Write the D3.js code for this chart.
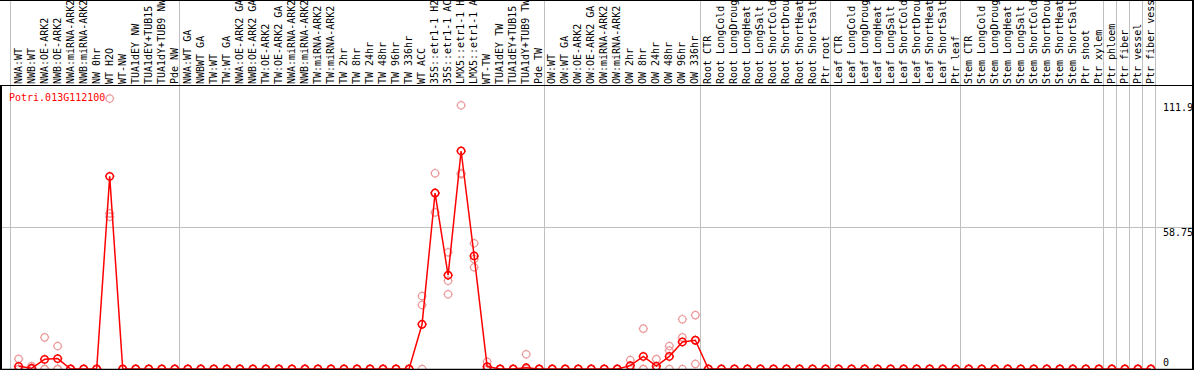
<!DOCTYPE html>
<html>
<head>
<meta charset="utf-8">
<script src="https://cdn.jsdelivr.net/npm/d3@7"></script>
<style>
  body { margin: 0; background: #fff; }
  text { font-family: "DejaVu Sans Mono", monospace; font-size: 10px; }
</style>
</head>
<body>
<svg id="chart" width="1194" height="370"></svg>
<script>

var geneName = "Potri.013G112100";

var samples = [
  "NWA:WT", "NWB:WT", "NWA:OE-ARK2", "NWB:OE-ARK2", "NWA:miRNA-ARK2", "NWB:miRNA-ARK2", "NW 0hr", "WT H2O", "WT-NW",
  "TUA1dEY NW", "TUA1dEY+TUB15 NW", "TUA1dY+TUB9 NW", "Pde NW",
  "NWA:WT GA", "NWBWT GA", "TW:WT", "TW:WT GA", "NWA:OE-ARK2 GA", "NWB:OE-ARK2 GA", "TW:OE-ARK2", "TW:OE-ARK2 GA",
  "NWA:miRNA-ARK2 GA", "NWB:miRNA-ARK2 GA", "TW:miRNA-ARK2", "TW:miRNA-ARK2 GA",
  "TW 2hr", "TW 8hr", "TW 24hr", "TW 48hr", "TW 96hr", "TW 336hr", "WT ACC",
  "35S::etr1-1 H2O", "35S::etr1-1 ACC", "LMX5::etr1-1 H2O", "LMX5::etr1-1 ACC", "WT-TW",
  "TUA1dEY TW", "TUA1dEY+TUB15 TW", "TUA1dY+TUB9 TW", "Pde TW",
  "OW:WT", "OW:WT GA", "OW:OE-ARK2", "OW:OE-ARK2 GA", "OW:miRNA-ARK2", "OW:miRNA-ARK2 GA",
  "OW 2hr", "OW 8hr", "OW 24hr", "OW 48hr", "OW 96hr", "OW 336hr",
  "Root CTR", "Root LongCold", "Root LongDrought", "Root LongHeat", "Root LongSalt",
  "Root ShortCold", "Root ShortDrought", "Root ShortHeat", "Root ShortSalt", "Ptr root",
  "Leaf CTR", "Leaf LongCold", "Leaf LongDrought", "Leaf LongHeat", "Leaf LongSalt",
  "Leaf ShortCold", "Leaf ShortDrought", "Leaf ShortHeat", "Leaf ShortSalt", "Ptr leaf",
  "Stem CTR", "Stem LongCold", "Stem LongDrought", "Stem LongHeat", "Stem LongSalt",
  "Stem ShortCold", "Stem ShortDrought", "Stem ShortHeat", "Stem ShortSalt", "Ptr shoot", "Ptr xylem",
  "Ptr phloem", "Ptr fiber", "Ptr vessel", "Ptr fiber vessel"
];

// mean expression per sample
var means = [
  1.1, 0.3, 4.0, 4.3, 0, 0, 0, 79.7, 0, 0, 0, 0, 0,
  0, 0, 0, 0, 0, 0, 0, 0, 0, 0, 0, 0, 0, 0, 0, 0, 0, 0, 18.5, 72.8, 38.8, 90.2, 46.8, 1.0, 0, 0, 0.5, 0,
  0, 0, 0, 0, 0, 0, 1.4, 5.2, 1.2, 5.2, 11.2, 11.9,
  0, 0, 0, 0, 0, 0, 0, 0, 0, 0,
  0, 0, 0, 0, 0, 0, 0, 0, 0, 0,
  0, 0, 0, 0, 0, 0, 0, 0, 0, 0, 0,
  0, 0, 0, 0
];

// replicates
var rep1 = [
  4.2, 1.2, 13.1, 9.5, 0, 0, 0, 111.9, 0, 0, 0, 0, 0,
  0, 0, 0, 0, 0, 0, 0, 0, 0, 0, 0, 0, 0, 0, 0, 0, 0, 0, 30.2, 81.0, 48.3, 109.1, 52.0, 3.0, 0, 0, 6.1, 0,
  0, 0, 0, 0, 0, 0, 3.7, 16.7, 4.1, 9.5, 20.6, 22.3,
  0, 0, 0, 0, 0, 0, 0, 0, 0, 0,
  0, 0, 0, 0, 0, 0, 0, 0, 0, 0,
  0, 0, 0, 0, 0, 0, 0, 0, 0, 0, 0,
  0, 0, 0, 0
];
var rep2 = [
  0, 0, 0, 0, 0, 0, 0, 64.4, 0, 0, 0, 0, 0,
  0, 0, 0, 0, 0, 0, 0, 0, 0, 0, 0, 0, 0, 0, 0, 0, 0, 0, 26.5, 64.8, 36.5, 80.6, 45.5, 0, 0, 0, 0, 0,
  0, 0, 0, 0, 0, 0, 0, 0, 0, 7.6, 13.1, 2.1,
  0, 0, 0, 0, 0, 0, 0, 0, 0, 0,
  0, 0, 0, 0, 0, 0, 0, 0, 0, 0,
  0, 0, 0, 0, 0, 0, 0, 0, 0, 0, 0,
  0, 0, 0, 0
];
var rep3 = [
  0, 0, 0, 0, 0, 0, 0, 63.0, 0, 0, 0, 0, 0,
  0, 0, 0, 0, 0, 0, 0, 0, 0, 0, 0, 0, 0, 0, 0, 0, 0, 0, 0, 72.8, 30.9, 81.0, 42.1, 0, 0, 0, 0, 0,
  0, 0, 0, 0, 0, 0, 0, 0, 0, 0, 0, 11.9,
  0, 0, 0, 0, 0, 0, 0, 0, 0, 0,
  0, 0, 0, 0, 0, 0, 0, 0, 0, 0,
  0, 0, 0, 0, 0, 0, 0, 0, 0, 0, 0,
  0, 0, 0, 0
];

// sample indices where a group boundary line is drawn
var groupBreaks = [0, 13, 41, 53, 63, 73, 84, 85, 86, 87, 88];

var maxVal = d3.max([].concat(rep1, rep2, rep3, means));
var yTicks = [maxVal, 58.75, 0];

var W = 1194, H = 370;
var plotTop = 85, plotBottom = 369;

var svg = d3.select("#chart");

var xBand = d3.scaleBand()
  .domain(d3.range(samples.length))
  .range([10, 10 + 13.015 * samples.length])
  .padding(0);

function xPos(i){
  return xBand(i) + 8.6;
}

var y = d3.scaleLinear()
  .domain([0, maxVal * 1.05])
  .range([plotBottom, plotTop]);

// grid
svg.append("g").selectAll("line").data(groupBreaks).join("line")
  .attr("x1", d => Math.round(xBand(d) || xBand.range()[1]) + 0.5)
  .attr("x2", d => Math.round(xBand(d) || xBand.range()[1]) + 0.5)
  .attr("y1", 0)
  .attr("y2", plotBottom)
  .attr("stroke", "#c0c0c0")
  .attr("stroke-width", 1);

svg.append("line")
  .attr("x1", 0).attr("x2", W)
  .attr("y1", Math.round(y(yTicks[1])) + 0.5)
  .attr("y2", Math.round(y(yTicks[1])) + 0.5)
  .attr("stroke", "#c0c0c0");

// sample labels
svg.append("g").selectAll("text").data(samples).join("text")
  .attr("transform", (d, i) => "translate(" + (xPos(i) + 3) + "," + (plotTop - 1) + ") rotate(-90)")
  .attr("fill", "#000")
  .text(d => d.slice(0, 14));

function marker(r){
  let p = d3.path();
  p.moveTo(r, 0);
  p.arc(0, 0, r, 0, 2 * Math.PI);
  p.moveTo(0, -r); p.lineTo(0, -r - 1);
  p.moveTo(0, r); p.lineTo(0, r + 1);
  p.moveTo(-r, 0); p.lineTo(-r - 1, 0);
  p.moveTo(r, 0); p.lineTo(r + 1, 0);
  return p.toString();
}

var repPoints = [];
[rep1, rep2, rep3].forEach(function(rep){
  rep.forEach(function(v, i){ repPoints.push({i: i, v: v}); });
});

svg.append("g").selectAll("path").data(repPoints).join("path")
  .attr("d", marker(3.7))
  .attr("transform", d => "translate(" + xPos(d.i) + "," + y(d.v) + ")")
  .attr("fill", "none")
  .attr("stroke", "#ec9a9a")
  .attr("stroke-width", 1.2);

var line = d3.line()
  .x((d, i) => xPos(i))
  .y(d => y(d));

svg.append("path")
  .datum(means)
  .attr("d", line)
  .attr("fill", "none")
  .attr("stroke", "#ff0000")
  .attr("stroke-width", 1.5);

svg.append("g").selectAll("path").data(means).join("path")
  .attr("d", marker(3.7))
  .attr("transform", (d, i) => "translate(" + xPos(i) + "," + y(d) + ")")
  .attr("fill", "none")
  .attr("stroke", "#ff0000")
  .attr("stroke-width", 1.5);

// frame
svg.append("line").attr("x1", 0).attr("x2", W).attr("y1", 0.5).attr("y2", 0.5).attr("stroke", "#000");
svg.append("line").attr("x1", 0).attr("x2", W).attr("y1", plotTop + 0.5).attr("y2", plotTop + 0.5).attr("stroke", "#000");
svg.append("line").attr("x1", 0).attr("x2", W).attr("y1", plotBottom + 0.5).attr("y2", plotBottom + 0.5).attr("stroke", "#000").attr("stroke-width", 1.5);
svg.append("line").attr("x1", 1).attr("x2", 1).attr("y1", plotTop).attr("y2", H).attr("stroke", "#000").attr("stroke-width", 2);
svg.append("line").attr("x1", 1193).attr("x2", 1193).attr("y1", 0).attr("y2", H).attr("stroke", "#000").attr("stroke-width", 2);

// right value labels
svg.append("g").selectAll("text").data(yTicks).join("text")
  .attr("x", 1163)
  .attr("y", d => d === 0 ? y(d) - 3 : (d === maxVal ? y(d) + 12 : y(d) + 9))
  .attr("fill", "#000")
  .text(d => d);

svg.append("text")
  .attr("x", 9)
  .attr("y", 101)
  .attr("fill", "#ff0000")
  .text(geneName);

</script>
</body>
</html>
